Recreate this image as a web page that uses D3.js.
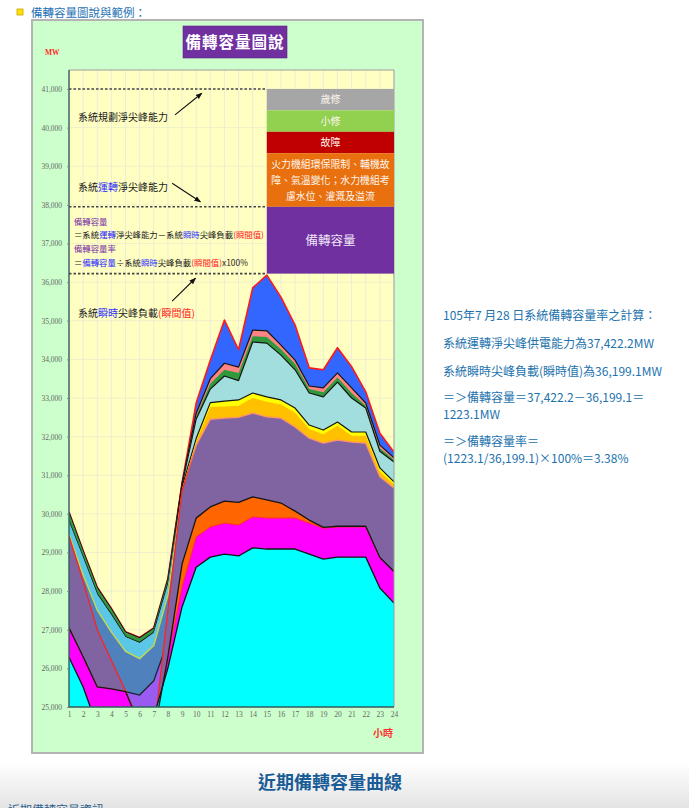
<!DOCTYPE html>
<html lang="zh-Hant">
<head>
<meta charset="utf-8">
<title>備轉容量圖說與範例</title>
<script src="https://cdn.jsdelivr.net/npm/d3@7"></script>
<style>
  html, body { margin: 0; padding: 0; background: #fff; }
  svg { display: block; }
</style>
</head>
<body>
<div id="chart"></div>
<script>
// Page size
const W = 689;
const H = 808;

// Hours on the x axis and MW ticks on the y axis
const hours = [1, 2, 3, 4, 5, 6, 7, 8, 9, 10, 11, 12, 13, 14, 15, 16, 17, 18, 19, 20, 21, 22, 23, 24];
const yTicks = [25000, 26000, 27000, 28000, 29000, 30000, 31000, 32000, 33000, 34000, 35000, 36000, 37000, 38000, 39000, 40000, 41000];

// Top edge (MW) of each coloured band, one value per hour
const blueTop = [30050, 29050, 28100, 27550, 26950, 26800, 27050, 28330, 30800, 32870, 33980, 35020, 34250, 35850, 36180, 35610, 34890, 33780, 33730, 34300, 33810, 33160, 32090, 31600];
const salmonTop = [30040, 29040, 28090, 27540, 26940, 26790, 27040, 28320, 30790, 32600, 33500, 33900, 33800, 34760, 34740, 34370, 33980, 33310, 33260, 33650, 33260, 32870, 31780, 31450];
const greenTop = [30025, 29025, 28075, 27525, 26925, 26775, 27025, 28305, 30780, 32520, 33370, 33730, 33650, 34600, 34580, 34260, 33880, 33230, 33150, 33530, 33130, 32800, 31700, 31400];
const lightCyanTop = [29810, 28880, 27930, 27390, 26820, 26670, 26930, 28190, 30760, 32450, 33230, 33570, 33450, 34450, 34420, 34110, 33730, 33130, 33030, 33410, 33000, 32740, 31620, 31340];
const skyTop = [29800, 28870, 27920, 27380, 26810, 26660, 26920, 28180, 30640, 31890, 32820, 32860, 32890, 33070, 32970, 32890, 32680, 32240, 32110, 32320, 32060, 32060, 31130, 30770];
const yellowTop = [29430, 28370, 27460, 26890, 26390, 26200, 26540, 27850, 30700, 31950, 32880, 32920, 32950, 33130, 33030, 32950, 32740, 32300, 32170, 32380, 32120, 32120, 31190, 30830];
const goldTop = [29420, 28360, 27450, 26880, 26380, 26190, 26530, 27840, 30650, 31880, 32770, 32780, 32800, 33000, 32900, 32830, 32620, 32200, 32060, 32280, 32020, 32020, 31100, 30760];
const steelTop = [29480, 28420, 27510, 26940, 26440, 26250, 26590, 27900, 30500, 31700, 32370, 32400, 32420, 32530, 32430, 32400, 32170, 31880, 31750, 31830, 31780, 31750, 30880, 30590];
const violetTop = [27050, 26300, 25520, 25470, 25400, 25310, 25680, 26700, 28100, 29400, 29660, 29760, 29710, 29920, 29890, 29890, 29890, 29760, 29630, 29660, 29660, 29660, 28860, 28500];
const purpleTop = [29430, 28250, 27000, 26200, 25420, 24540, 24280, 27500, 30600, 31780, 32450, 32480, 32500, 32610, 32510, 32480, 32250, 31960, 31830, 31910, 31860, 31830, 30960, 30670];
const orangeTop = [27050, 26300, 25520, 25470, 25400, 24540, 24280, 26300, 28700, 29890, 30180, 30330, 30300, 30440, 30360, 30280, 30070, 29840, 29650, 29680, 29680, 29680, 28870, 28510];
const magentaTop = [27050, 26300, 25520, 25470, 25400, 24540, 24280, 26300, 28100, 29400, 29660, 29760, 29710, 29920, 29890, 29890, 29890, 29760, 29630, 29660, 29660, 29660, 28860, 28500];
const cyanTop = [26290, 25520, 24500, 24300, 24200, 24100, 24750, 26010, 27590, 28620, 28880, 28960, 28910, 29120, 29090, 29090, 29090, 28960, 28830, 28880, 28880, 28880, 28080, 27690];

// Dashed reference levels: planned capability, operating capability, peak load
const refLines = [41000, 37950, 36220];

// Legend boxes
const legendLabels = [['歲修'], ['小修'], ['故障'], ['火力機組環保限制、輔機故', '障、氣溫變化；水力機組考', '慮水位、灌溉及溢流'], ['備轉容量']];
const legendColors = ['#a6a6a6', '#92d050', '#c00000', '#e8700e', '#7030a0'];

// Worked example on the right
const calcLines = [
  '105年7 月28 日系統備轉容量率之計算：',
  '系統運轉淨尖峰供電能力為37,422.2MW',
  '系統瞬時尖峰負載(瞬時值)為36,199.1MW',
  '＝＞備轉容量＝37,422.2－36,199.1＝',
  '1223.1MW',
  '＝＞備轉容量率＝',
  '(1223.1/36,199.1)×100%＝3.38%'
];

const cjk = "'Noto Sans CJK TC', 'Noto Sans', sans-serif";
const serif = "'Liberation Serif', 'DejaVu Serif', serif";

// Scales
const x = d3.scaleLinear().domain([1, 24]).range([69, 394]);
const y = d3.scaleLinear().domain([25000, 41000]).range([707, 89]);
const plotTop = 70;

const svg = d3
  .select('#chart')
  .append('svg')
  .attr('width', W)
  .attr('height', H)
  .attr('font-family', cjk);

const defs = svg.append('defs');

// soft grey fade at the foot of the page
const fade = defs.append('linearGradient').attr('id', 'fadeGray')
  .attr('x1', 0).attr('y1', 0).attr('x2', 0).attr('y2', 1);
fade.append('stop').attr('offset', 0).attr('stop-color', '#ffffff');
fade.append('stop').attr('offset', 1).attr('stop-color', '#e4e4e4');

// edge of the purple band is red at night and salmon by day
const purpleEdge = defs.append('linearGradient').attr('id', 'purpleEdge')
  .attr('gradientUnits', 'userSpaceOnUse')
  .attr('x1', x(1)).attr('x2', x(24)).attr('y1', 0).attr('y2', 0);
purpleEdge.append('stop').attr('offset', (9.2 - 1) / 23).attr('stop-color', '#ff2020');
purpleEdge.append('stop').attr('offset', (10 - 1) / 23).attr('stop-color', '#ff9070');

defs.append('clipPath').attr('id', 'plotClip')
  .append('rect')
  .attr('x', x(1)).attr('y', plotTop)
  .attr('width', x(24) - x(1)).attr('height', y(25000) - plotTop);

defs.append('marker').attr('id', 'arrowHead')
  .attr('viewBox', '0 0 10 10').attr('refX', 9).attr('refY', 5)
  .attr('markerWidth', 6).attr('markerHeight', 6).attr('orient', 'auto')
  .append('path').attr('d', 'M0,1L10,5L0,9Z').attr('fill', '#111');

svg.append('rect')
  .attr('x', 0).attr('y', 762).attr('width', W).attr('height', H - 762)
  .attr('fill', 'url(#fadeGray)');

// Header line
svg.append('rect')
  .attr('x', 17).attr('y', 9).attr('width', 6).attr('height', 6)
  .attr('fill', '#ffe000').attr('stroke', '#c9a800').attr('stroke-width', 0.8);
svg.append('text')
  .attr('x', 31).attr('y', 16.5)
  .attr('font-size', 11.5).attr('fill', '#1f73b6')
  .text('備轉容量圖說與範例：');

// Green panel
svg.append('rect')
  .attr('x', 32).attr('y', 20).attr('width', 391).attr('height', 733)
  .attr('fill', '#ccffcc').attr('stroke', '#b4b4b4').attr('stroke-width', 2);

// Title box
svg.append('rect')
  .attr('x', 183).attr('y', 26).attr('width', 104).attr('height', 32)
  .attr('fill', '#7030a0').attr('stroke', '#5a2488').attr('stroke-width', 0.6);
svg.append('text')
  .attr('x', 235).attr('y', 48).attr('text-anchor', 'middle')
  .attr('font-size', 15.5).attr('font-weight', 'bold').attr('letter-spacing', 1)
  .attr('fill', '#ffffff')
  .text('備轉容量圖說');

svg.append('text')
  .attr('x', 45).attr('y', 55)
  .attr('font-family', serif).attr('font-size', 7.5).attr('font-weight', 'bold')
  .attr('fill', '#ff2d2d')
  .text('MW');

// Plot background and grid
svg.append('rect')
  .attr('x', x(1)).attr('y', plotTop)
  .attr('width', x(24) - x(1)).attr('height', y(25000) - plotTop)
  .attr('fill', '#ffffc2');

svg.append('g')
  .selectAll('line')
  .data(yTicks)
  .enter()
  .append('line')
  .attr('x1', x(1)).attr('x2', x(24))
  .attr('y1', (d) => y(d)).attr('y2', (d) => y(d))
  .attr('stroke', '#efefc8').attr('stroke-width', 1);

svg.append('g')
  .selectAll('line')
  .data(hours)
  .enter()
  .append('line')
  .attr('x1', (d) => x(d)).attr('x2', (d) => x(d))
  .attr('y1', plotTop).attr('y2', y(25000))
  .attr('stroke', '#ececdc').attr('stroke-width', 1);

// Bands, painted from the top layer down so lower bands cover higher ones
const layers = [
  { values: blueTop, fill: '#3366ff', stroke: '#ff1a1a', width: 1.6 },
  { values: salmonTop, fill: '#ff8585', stroke: '#151515', width: 1.2 },
  { values: greenTop, fill: '#2f9a3c', stroke: null },
  { values: lightCyanTop, fill: '#a2dede', stroke: '#151515', width: 1.2 },
  { values: skyTop, fill: '#5cc6e6', stroke: null },
  { values: yellowTop, fill: '#ffff00', stroke: '#151515', width: 1.2 },
  { values: goldTop, fill: '#ffc000', stroke: null },
  { values: steelTop, fill: '#4f81bd', stroke: '#c6d84c', width: 1.4 },
  { values: violetTop, fill: '#9a5cf0', stroke: '#1c2530', width: 1.3 },
  { values: purpleTop, fill: '#8064a2', stroke: 'url(#purpleEdge)', width: 1.3 },
  { values: orangeTop, fill: '#ff6600', stroke: null },
  { values: magentaTop, fill: '#ff00ff', stroke: '#ff2a2a', width: 0.9 },
  { values: cyanTop, fill: '#00ffff', stroke: '#151515', width: 1.3 }
];

const area = d3.area()
  .x((d, i) => x(hours[i]))
  .y0(y(20000))
  .y1((d) => y(d));

const edge = d3.line()
  .x((d, i) => x(hours[i]))
  .y((d) => y(d));

const bands = svg.append('g').attr('clip-path', 'url(#plotClip)');

layers.forEach((layer) => {
  bands.append('path')
    .datum(layer.values)
    .attr('d', area)
    .attr('fill', layer.fill);
  if (layer.stroke) {
    bands.append('path')
      .datum(layer.values)
      .attr('d', edge)
      .attr('fill', 'none')
      .attr('stroke', layer.stroke)
      .attr('stroke-width', layer.width)
      .attr('stroke-linejoin', 'round');
  }
});

// black edge on top of the orange band goes last so it stays visible at night
bands.append('path')
  .datum(orangeTop)
  .attr('d', edge)
  .attr('fill', 'none')
  .attr('stroke', '#151515')
  .attr('stroke-width', 1.3)
  .attr('stroke-linejoin', 'round');

// Dashed reference lines
svg.append('g')
  .selectAll('line')
  .data(refLines)
  .enter()
  .append('line')
  .attr('x1', x(1)).attr('x2', x(15))
  .attr('y1', (d) => y(d)).attr('y2', (d) => y(d))
  .attr('stroke', '#444')
  .attr('stroke-width', 1.6)
  .attr('stroke-dasharray', '2.5,2');

// Frame and axes
svg.append('path')
  .attr('d', `M${x(1)},${plotTop}H${x(24)}V${y(25000)}`)
  .attr('fill', 'none').attr('stroke', '#9c9c9c').attr('stroke-width', 1);
svg.append('path')
  .attr('d', `M${x(1)},${plotTop}V${y(25000)}H${x(24)}`)
  .attr('fill', 'none').attr('stroke', '#2f5f5f').attr('stroke-width', 1.4);

const yAxis = svg.append('g')
  .attr('transform', `translate(${x(1)},0)`)
  .call(d3.axisLeft(y).tickValues(yTicks).tickFormat(d3.format(',')).tickSize(2).tickPadding(5));
yAxis.select('.domain').remove();
yAxis.selectAll('line').attr('stroke', '#888');
yAxis.selectAll('text')
  .attr('font-family', serif).attr('font-size', 7.5).attr('fill', '#666');

const xAxis = svg.append('g')
  .attr('transform', `translate(0,${y(25000)})`)
  .call(d3.axisBottom(x).tickValues(hours).tickFormat(d3.format('d')).tickSize(0).tickPadding(5));
xAxis.select('.domain').remove();
xAxis.selectAll('text')
  .attr('font-family', serif).attr('font-size', 7.5).attr('fill', '#666');

svg.append('text')
  .attr('x', 373).attr('y', 737)
  .attr('font-size', 10).attr('font-weight', 'bold').attr('fill', '#ff3030')
  .text('小時');

// Legend boxes stacked between the dashed lines
const legendX = x(15);
const legendW = x(24) - legendX;
const topBand = y(refLines[0]);
const midBand = y(refLines[1]);
const lowBand = y(refLines[2]);
const rowH = 21.4;
const legendRows = [
  [topBand, topBand + rowH],
  [topBand + rowH, topBand + 2 * rowH],
  [topBand + 2 * rowH, topBand + 3 * rowH],
  [topBand + 3 * rowH, midBand],
  [midBand, lowBand]
];
const legendFont = [10, 10, 10, 9.9, 12.5];

const legend = svg.append('g');
legendLabels.forEach((lines, i) => {
  const [y0, y1] = legendRows[i];
  legend.append('rect')
    .attr('x', legendX).attr('y', y0)
    .attr('width', legendW).attr('height', y1 - y0)
    .attr('fill', legendColors[i]);
  const lh = legendFont[i] * 1.62;
  const mid = (y0 + y1) / 2;
  lines.forEach((line, j) => {
    legend.append('text')
      .attr('x', legendX + legendW / 2)
      .attr('y', mid + (j - (lines.length - 1) / 2) * lh + legendFont[i] * 0.36)
      .attr('text-anchor', 'middle')
      .attr('font-size', legendFont[i])
      .attr('fill', i === 4 ? '#efe6f6' : '#fff6ee')
      .text(line);
  });
});

// Annotations on the chart
function richText(px, py, size, parts) {
  const t = svg.append('text')
    .attr('x', px).attr('y', py)
    .attr('font-size', size);
  parts.forEach(([str, color]) => {
    t.append('tspan').attr('fill', color).text(str);
  });
}

const ink = '#1a1a1a';
const blueInk = '#2d2dff';
const redInk = '#ff2020';
const purpleInk = '#7a30a8';

richText(78, 121, 10, [['系統規劃淨尖峰能力', ink]]);
richText(78, 191, 10, [['系統', ink], ['運轉', blueInk], ['淨尖峰能力', ink]]);
richText(74, 225, 8.4, [['備轉容量', purpleInk]]);
richText(74, 238, 8.4, [['＝系統', ink], ['運轉', blueInk], ['淨尖峰能力－系統', ink], ['瞬時', blueInk], ['尖峰負載', ink], ['(瞬間值)', redInk]]);
richText(74, 252, 8.4, [['備轉容量率', purpleInk]]);
richText(74, 266, 8.4, [['＝', ink], ['備轉容量', blueInk], ['÷系統', ink], ['瞬時', blueInk], ['尖峰負載', ink], ['(瞬間值)', redInk], ['x100%', ink]]);
richText(78, 317, 10, [['系統', ink], ['瞬時', blueInk], ['尖峰負載', ink], ['(瞬間值)', redInk]]);

const arrows = [
  [[8.5, 40330], [10.4, 40890]],
  [[8.3, 38560], [10.3, 38080]],
  [[8.3, 35510], [9.95, 36100]]
];
svg.append('g')
  .selectAll('line')
  .data(arrows)
  .enter()
  .append('line')
  .attr('x1', (d) => x(d[0][0])).attr('y1', (d) => y(d[0][1]))
  .attr('x2', (d) => x(d[1][0])).attr('y2', (d) => y(d[1][1]))
  .attr('stroke', '#111').attr('stroke-width', 1.1)
  .attr('marker-end', 'url(#arrowHead)');

// Worked example text; wrapped lines sit closer together
const calcY = [319.5, 347.5, 375.5, 402, 419, 446, 463];
svg.append('g')
  .selectAll('text')
  .data(calcLines)
  .enter()
  .append('text')
  .attr('x', 443)
  .attr('y', (d, i) => calcY[i])
  .attr('font-size', 12)
  .attr('fill', '#2272ad')
  .text((d) => d);

// Section heading below the panel
svg.append('text')
  .attr('x', 330).attr('y', 789)
  .attr('text-anchor', 'middle')
  .attr('font-size', 18).attr('font-weight', 'bold')
  .attr('fill', '#1a5c96')
  .text('近期備轉容量曲線');

// next section title, cut by the bottom of the window as in the reference
svg.append('text')
  .attr('x', 8).attr('y', 815)
  .attr('font-size', 12).attr('fill', '#2a5f8a')
  .text('近期備轉容量資訊');
</script>
</body>
</html>
